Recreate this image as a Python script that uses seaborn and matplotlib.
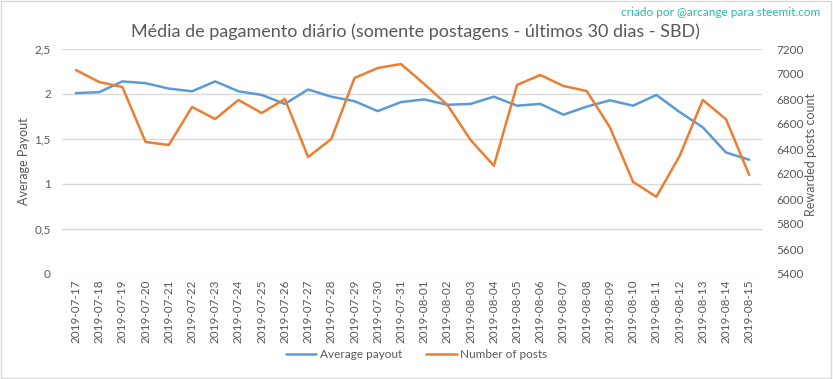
import matplotlib
matplotlib.use("Agg")
from matplotlib import pyplot as plt
import numpy as np
import pandas as pd
import seaborn as sns

dates = ["2019-07-17", "2019-07-18", "2019-07-19", "2019-07-20", "2019-07-21",
         "2019-07-22", "2019-07-23", "2019-07-24", "2019-07-25", "2019-07-26",
         "2019-07-27", "2019-07-28", "2019-07-29", "2019-07-30", "2019-07-31",
         "2019-08-01", "2019-08-02", "2019-08-03", "2019-08-04", "2019-08-05",
         "2019-08-06", "2019-08-07", "2019-08-08", "2019-08-09", "2019-08-10",
         "2019-08-11", "2019-08-12", "2019-08-13", "2019-08-14", "2019-08-15"]
avg_payout = [2.01, 2.02, 2.14, 2.12, 2.06, 2.03, 2.14, 2.03, 1.99, 1.89,
              2.05, 1.97, 1.92, 1.81, 1.91, 1.94, 1.88, 1.89, 1.97, 1.87,
              1.89, 1.77, 1.86, 1.93, 1.87, 1.99, 1.80, 1.63, 1.35, 1.27]
num_posts = [7032, 6936, 6896, 6456, 6432, 6736, 6640, 6792, 6688, 6800,
             6336, 6480, 6968, 7048, 7080, 6920, 6752, 6472, 6266, 6912,
             6992, 6904, 6864, 6573, 6136, 6018, 6344, 6792, 6638, 6192]

BLUE = "#5B9BD5"
ORANGE = "#ED7D31"
GRAY = "#595959"

sns.set_style("white")
plt.rcParams['font.family'] = ['Lato', 'DejaVu Sans']

df = pd.DataFrame({"date": dates, "payout": avg_payout, "posts": num_posts})
df["idx"] = np.arange(len(dates))

fig = plt.figure(figsize=(8.33, 3.79), dpi=100)
ax = fig.add_axes([62 / 833, 1 - 274 / 379, 700 / 833, 225 / 379])
ax2 = ax.twinx()

sns.lineplot(data=df, x="idx", y="payout", ax=ax, color=BLUE, linewidth=1.8,
             label="Average payout", legend=False)
sns.lineplot(data=df, x="idx", y="posts", ax=ax2, color=ORANGE, linewidth=1.8,
             label="Number of posts", legend=False)

ax.set_xlim(-0.6, len(dates) - 0.45)
ax.set_ylim(0, 2.5)
ax.set_yticks([0, 0.5, 1, 1.5, 2, 2.5])
ax.set_yticklabels(["0", "0,5", "1", "1,5", "2", "2,5"])
ax2.set_ylim(5400, 7200)
ax2.set_yticks(range(5400, 7201, 200))

ax.set_xticks(df["idx"])
ax.set_xticklabels(dates, rotation=90)
ax.grid(axis="y", color="#D9D9D9", linewidth=1)
ax.set_axisbelow(True)
for a in (ax, ax2):
    for s in a.spines.values():
        s.set_visible(False)
    a.tick_params(length=0, colors=GRAY, labelsize=8.5)
ax.tick_params(axis="x", pad=4)
ax.tick_params(axis="y", pad=8)
ax2.tick_params(axis="y", pad=10)

ax.set_xlabel("")
ax.set_ylabel("Average Payout", color=GRAY, fontsize=9)
ax2.set_ylabel("Rewarded posts count", color=GRAY, fontsize=9)
ax.yaxis.set_label_coords(-0.045, 0.5)
ax2.yaxis.set_label_coords(1.062, 0.53)

fig.text(415 / 833, 1 - 32 / 379, "Média de pagamento diário (somente postagens - últimos 30 dias - SBD)",
         ha="center", va="center", fontsize=13, color="#595959")
fig.text(820 / 833, 1 - 13 / 379, "criado por @arcange para steemit.com",
         ha="right", va="center", fontsize=8.5, color="#26BFA0")

h1, l1 = ax.get_legend_handles_labels()
h2, l2 = ax2.get_legend_handles_labels()
fig.legend(h1 + h2, l1 + l2, loc="center", bbox_to_anchor=(0.5, 1 - 355 / 379),
           ncol=2, frameon=False, fontsize=8.5, labelcolor=GRAY,
           handlelength=2.6, columnspacing=2.0, handletextpad=0.3)

border = plt.Rectangle((0.001, 0.002), 0.997, 0.995, transform=fig.transFigure,
                       fill=False, edgecolor="#D9D9D9", linewidth=1)
fig.patches.append(border)

fig.savefig("out.png", dpi=100)
